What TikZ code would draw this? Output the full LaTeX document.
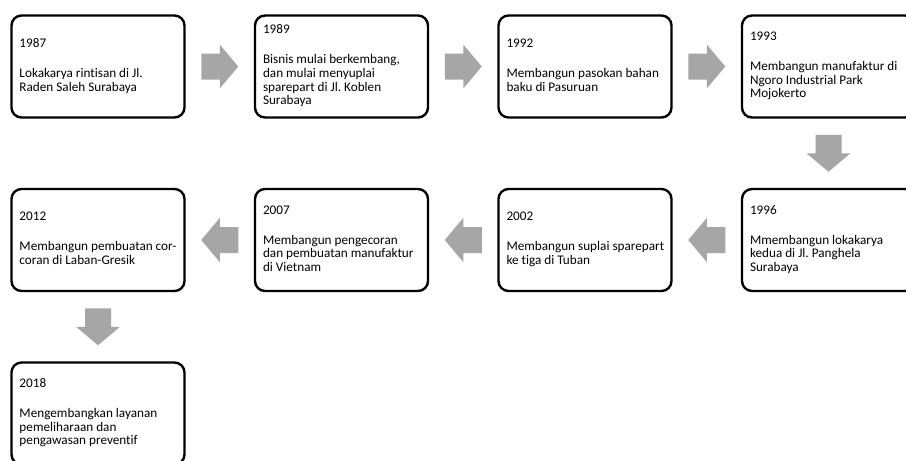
\documentclass[tikz,border=0pt]{standalone}
\usepackage{fontspec}
\setmainfont{Carlito}[RawFeature={-liga;-clig}]
\frenchspacing
\usetikzlibrary{calc}
\definecolor{arrowgray}{HTML}{A6A6A6}
\tikzset{
  eventbox/.style={draw=black, line width=2.4pt, rounded corners=10pt, fill=white,
    minimum width=173pt, minimum height=102pt, inner sep=0pt},
  blockarrow/.pic={\fill[arrowgray] (-18.5pt,-13pt) -- (0pt,-13pt) -- (0pt,-22pt) -- (18.5pt,0pt) -- (0pt,22pt) -- (0pt,13pt) -- (-18.5pt,13pt) -- cycle;}
}
\newcommand{\evtext}[2]{\makebox[157pt][l]{\fontsize{13.2pt}{13.6pt}\selectfont\frenchspacing\begin{tabular}{@{}l@{}}#1\\[16.5pt]#2\end{tabular}}}
\begin{document}
\begin{tikzpicture}
\useasboundingbox (0,0) rectangle (906pt,-461pt);
\clip (0,0) rectangle (906pt,-461pt);
\fill[white] (0,0) rectangle (906pt,-461pt);
% row 1
\node[eventbox] (b1) at (98pt,-66.5pt) {\evtext{1987}{Lokakarya rintisan di Jl.\\Raden Saleh Surabaya}};
\node[eventbox] (b2) at (341.5pt,-66.5pt) {\evtext{1989}{Bisnis mulai berkembang,\\dan mulai menyuplai\\sparepart di Jl. Koblen\\Surabaya}};
\node[eventbox] (b3) at (585pt,-66.5pt) {\evtext{1992}{Membangun pasokan bahan\\baku di Pasuruan}};
\node[eventbox] (b4) at (828.5pt,-66.5pt) {\evtext{1993}{Membangun manufaktur di\\Ngoro Industrial Park\\Mojokerto}};
% row 2
\node[eventbox] (b5) at (828.5pt,-240pt) {\evtext{1996}{Mmembangun lokakarya\\kedua di Jl. Panghela\\Surabaya}};
\node[eventbox] (b6) at (585pt,-240pt) {\evtext{2002}{Membangun suplai sparepart\\ke tiga di Tuban}};
\node[eventbox] (b7) at (341.5pt,-240pt) {\evtext{2007}{Membangun pengecoran\\dan pembuatan manufaktur\\di Vietnam}};
\node[eventbox] (b8) at (98pt,-240pt) {\evtext{2012}{Membangun pembuatan cor-\\coran di Laban-Gresik}};
% row 3
\node[eventbox] (b9) at (98pt,-413.5pt) {\evtext{2018}{Mengembangkan layanan\\pemeliharaan dan\\pengawasan preventif}};
% block arrows
\pic at ($(b1.east)!0.5!(b2.west)$) {blockarrow};
\pic at ($(b2.east)!0.5!(b3.west)$) {blockarrow};
\pic at ($(b3.east)!0.5!(b4.west)$) {blockarrow};
\pic[rotate=-90] at ($(b4.south)!0.5!(b5.north)$) {blockarrow};
\pic[rotate=180] at ($(b5.west)!0.5!(b6.east)$) {blockarrow};
\pic[rotate=180] at ($(b6.west)!0.5!(b7.east)$) {blockarrow};
\pic[rotate=180] at ($(b7.west)!0.5!(b8.east)$) {blockarrow};
\pic[rotate=-90] at ($(b8.south)!0.5!(b9.north)$) {blockarrow};
\end{tikzpicture}
\end{document}
